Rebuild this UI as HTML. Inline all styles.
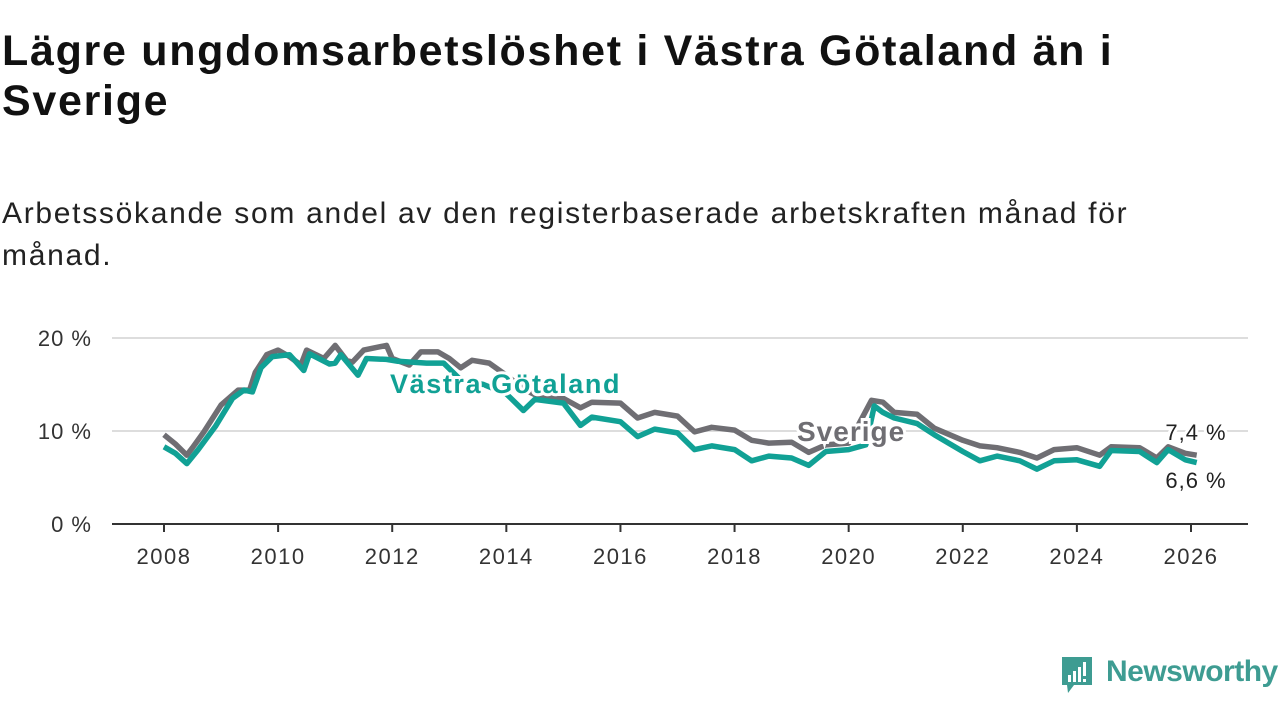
<!DOCTYPE html>
<html><head><meta charset="utf-8">
<style>
body{margin:0;width:1280px;height:720px;background:#fff;font-family:"Liberation Sans",sans-serif;overflow:hidden;position:relative;color:#111}
h1{position:absolute;left:2px;top:26px;margin:0;font-size:43px;line-height:50px;font-weight:bold;width:1275px;letter-spacing:1.7px}
.sub{position:absolute;left:2px;top:193px;font-size:30px;line-height:42px;width:1275px;color:#222;letter-spacing:1.7px}
svg{position:absolute;left:0;top:0}
</style></head><body>
<h1>Lägre ungdomsarbetslöshet i Västra Götaland än i<br>Sverige</h1>
<div class="sub">Arbetssökande som andel av den registerbaserade arbetskraften månad för<br>månad.</div>
<svg id="chart" width="1280" height="720"></svg>
<div style="position:absolute;left:1060px;top:655px;width:220px;height:45px">
<svg width="36" height="42" style="left:0;top:0"><path d="M2 2 H32 V30 H14 L8 38 L7 30 H2 Z" fill="#3e9c92"/><rect x="8" y="20" width="3" height="7" fill="#fff"/><rect x="13" y="16" width="3" height="11" fill="#fff"/><rect x="18" y="12" width="3" height="15" fill="#fff"/><rect x="23" y="7" width="3" height="14" fill="#fff"/><rect x="23" y="24" width="3" height="3" fill="#fff"/></svg>
<span style="position:absolute;left:46px;top:0;font-size:30px;color:#3e9c92;font-weight:bold;letter-spacing:-0.5px">Newsworthy</span></div>
<script>
const yTicks=[0,10,20];
const xTicks=[2008,2010,2012,2014,2016,2018,2020,2022,2024,2026];
const sverigeX=[2008.0,2008.2,2008.4,2008.5,2008.7,2009.0,2009.3,2009.5,2009.6,2009.8,2010.0,2010.2,2010.4,2010.5,2010.8,2011.0,2011.2,2011.3,2011.5,2011.9,2012.0,2012.3,2012.5,2012.8,2013.0,2013.2,2013.4,2013.7,2014.0,2014.3,2014.5,2015.0,2015.3,2015.5,2016.0,2016.3,2016.6,2017.0,2017.3,2017.6,2018.0,2018.3,2018.6,2019.0,2019.3,2019.6,2020.0,2020.4,2020.6,2020.8,2021.2,2021.5,2022.0,2022.3,2022.6,2023.0,2023.3,2023.6,2024.0,2024.4,2024.6,2025.1,2025.4,2025.6,2025.9,2026.1];
const sverigeV=[9.6,8.6,7.4,8.2,9.9,12.8,14.4,14.4,16.3,18.2,18.7,18.0,17.1,18.7,17.8,19.2,17.6,17.4,18.7,19.2,17.8,17.1,18.5,18.5,17.8,16.8,17.6,17.3,16.0,14.5,13.9,13.5,12.5,13.1,13.0,11.4,12.0,11.6,9.9,10.4,10.1,9.0,8.7,8.8,7.7,8.5,8.7,13.3,13.1,12.0,11.8,10.3,9.0,8.4,8.2,7.7,7.1,8.0,8.2,7.4,8.3,8.2,7.1,8.3,7.6,7.4];
const vgX=[2008.0,2008.2,2008.4,2008.6,2008.9,2009.2,2009.4,2009.55,2009.7,2009.9,2010.2,2010.45,2010.55,2010.9,2011.0,2011.1,2011.4,2011.55,2011.9,2012.1,2012.6,2012.9,2013.2,2013.6,2014.0,2014.3,2014.5,2015.0,2015.3,2015.5,2016.0,2016.3,2016.6,2017.0,2017.3,2017.6,2018.0,2018.3,2018.6,2019.0,2019.3,2019.6,2020.0,2020.3,2020.45,2020.6,2020.8,2021.2,2021.5,2022.0,2022.3,2022.6,2023.0,2023.3,2023.6,2024.0,2024.4,2024.6,2025.1,2025.4,2025.6,2025.9,2026.1];
const vgV=[8.3,7.6,6.5,8.0,10.5,13.5,14.4,14.2,16.8,18.0,18.2,16.5,18.3,17.2,17.3,18.2,16.0,17.8,17.7,17.5,17.3,17.3,15.5,15.0,14.0,12.2,13.4,13.0,10.6,11.5,11.0,9.4,10.2,9.8,8.0,8.4,8.0,6.8,7.3,7.1,6.3,7.8,8.0,8.5,12.7,12.0,11.4,10.8,9.6,7.8,6.8,7.3,6.8,5.9,6.8,6.9,6.2,7.9,7.8,6.6,8.0,6.9,6.6];
const svg=document.getElementById('chart');
const NS='http://www.w3.org/2000/svg';
const X=y=>164+(y-2008)*(1191-164)/18;
const Y=v=>524-v*9.3;
function mk(t,a,txt){const e=document.createElementNS(NS,t);for(const k in a)e.setAttribute(k,a[k]);if(txt!==undefined)e.textContent=txt;svg.appendChild(e);return e;}
yTicks.forEach(v=>{
 if(v>0){const g=mk('line',{x1:112,x2:1248,y1:Y(v),y2:Y(v),stroke:'#ddd','stroke-width':2});
 
 }
 const t=mk('text',{x:92,y:Y(v)+8,'text-anchor':'end','font-size':22,'letter-spacing':1,fill:'#333','font-family':'Liberation Sans, sans-serif'},v+' %');
 
 
});
const ax=mk('line',{x1:112,x2:1248,y1:Y(0),y2:Y(0),stroke:'#333','stroke-width':2});


xTicks.forEach(v=>{
 const l=mk('line',{x1:X(v),x2:X(v),y1:Y(0),y2:Y(0)+8,stroke:'#333','stroke-width':2});
 
 
 const t=mk('text',{x:X(v),y:564,'text-anchor':'middle','font-size':22,'letter-spacing':1.5,fill:'#333','font-family':'Liberation Sans, sans-serif'},v);
 
 
});
function line(xs,vs,col,name){
 const d=xs.map((x,i)=>(i?'L':'M')+X(x).toFixed(1)+','+Y(vs[i]).toFixed(1)).join('');
 const p=mk('path',{d:d,fill:'none',stroke:col,'stroke-width':5.5,'stroke-linejoin':'round'});
 
 
}
line(sverigeX,sverigeV,'#6f6e73','line-sverige');
line(vgX,vgV,'#11a195','line-vastra-gotaland');
function lab(x,y,txt,col,name,size,w,anchor,ls){
 const t=mk('text',{x:x,y:y,'font-size':size,'font-weight':w,'letter-spacing':ls,fill:col,stroke:'#fff','stroke-width':6,'paint-order':'stroke','text-anchor':anchor,'font-family':'Liberation Sans, sans-serif'},txt);
 
 
}
lab(390,393,'Västra Götaland','#11a195','label-vastra-gotaland',27,'bold','start',1.6);
lab(797,441,'Sverige','#6f6e73','label-sverige',28,'bold','start',1);
lab(1196,440,'7,4 %','#222','end-value-sverige',22,'normal','middle',1);
lab(1196,488,'6,6 %','#222','end-value-vastra-gotaland',22,'normal','middle',1);
</script>
</body></html>
